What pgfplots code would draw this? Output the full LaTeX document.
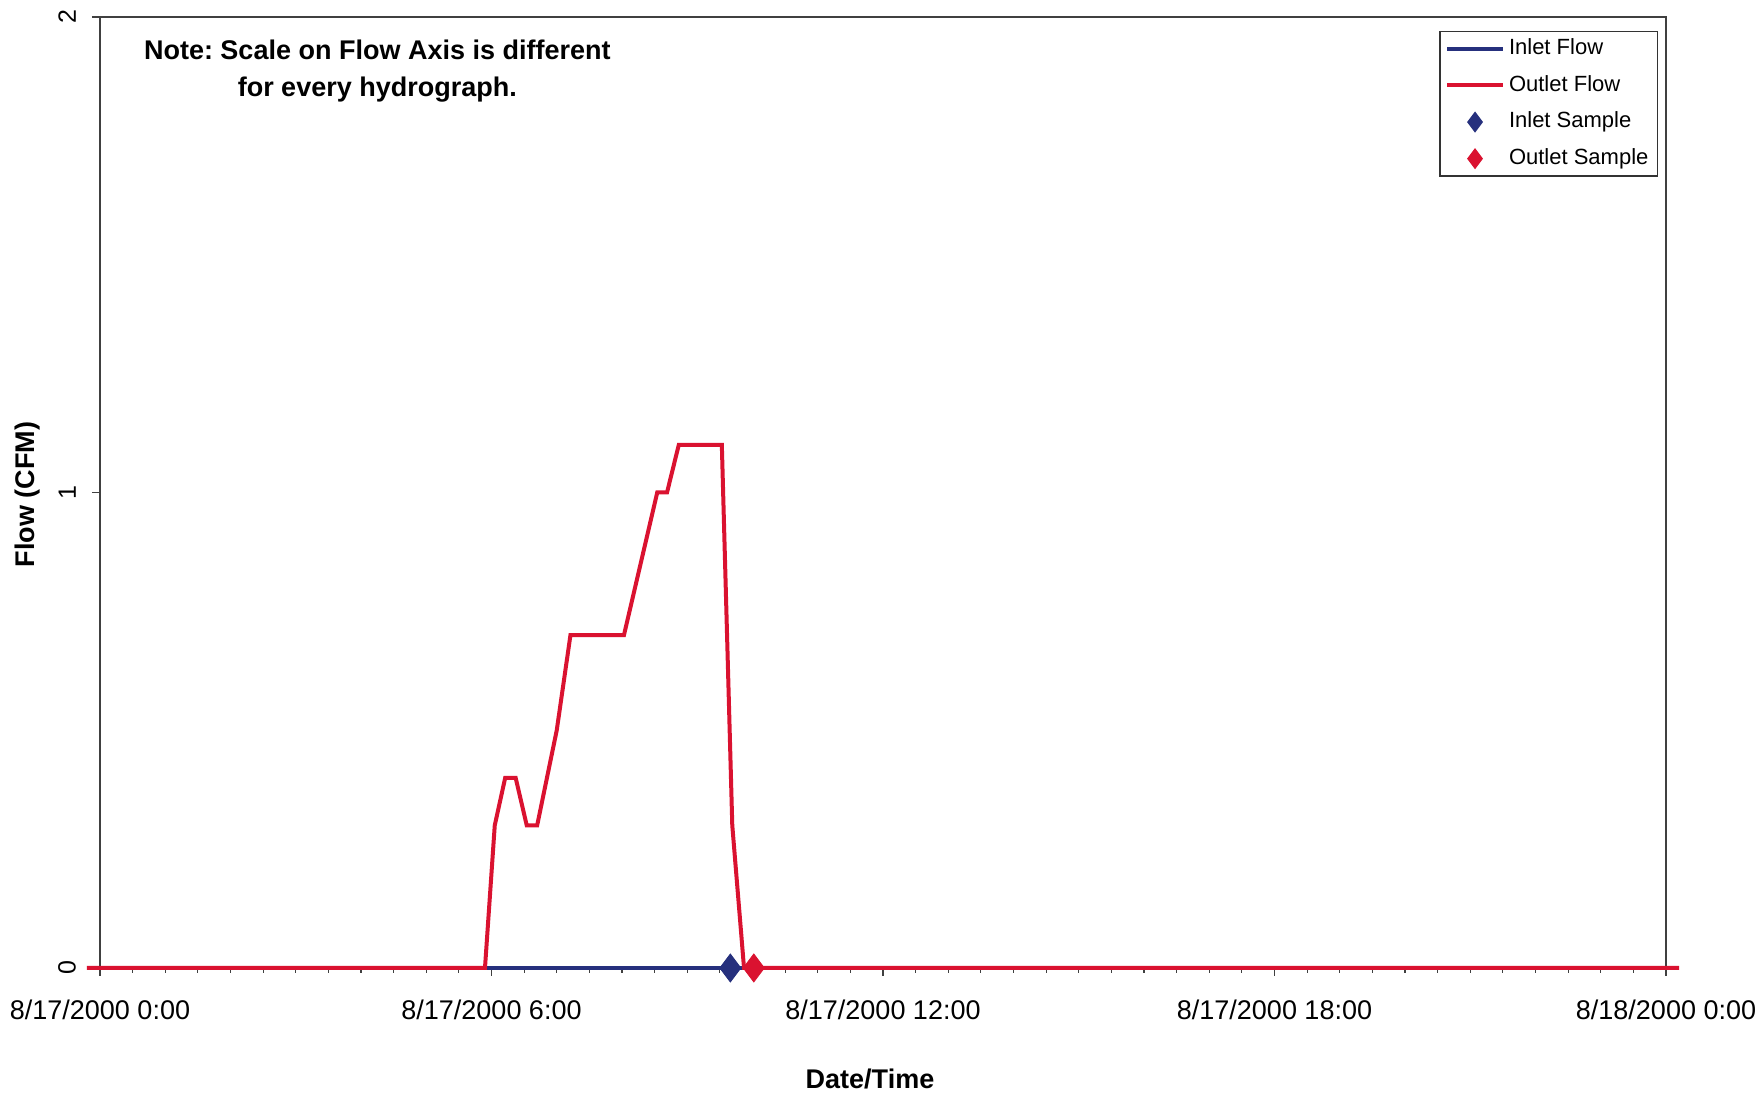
\documentclass[border=0pt]{standalone}
\usepackage{fontspec}
\setmainfont{Liberation Sans}
\usepackage{pgfplots}
\pgfplotsset{compat=1.18}
\definecolor{flowred}{RGB}{218,18,48}
\definecolor{flowblue}{RGB}{38,48,125}
\pgfplotsset{
 lineleg/.style={legend image code/.code={\draw[##1] (0pt,0pt) -- (28pt,0pt);}},
 markleg/.style={legend image code/.code={\draw[##1, mark size=4.8pt] plot coordinates {(14pt,0pt)};}},
}
\frenchspacing
\begin{document}
\begin{tikzpicture}
\begin{axis}[
 name=ax,
 scale only axis,
 width=783pt, height=475.5pt,
 xmin=0, xmax=24, ymin=0, ymax=2,
 clip=false,
 axis line style={black!75, line width=0.7pt},
 tick pos=left,
 tick align=outside,
 xtick={0,6,12,18,24},
 xticklabels={8/17/2000 0:00, 8/17/2000 6:00, 8/17/2000 12:00, 8/17/2000 18:00, 8/18/2000 0:00},
 minor x tick num=11,
 ytick={0,1,2},
 major tick length=4pt, minor tick length=2.5pt,
 every tick/.style={black!75, line width=0.6pt},
 /pgf/number format/assume math mode=true,
 xticklabel style={font=\fontsize{13.5}{16}\selectfont, yshift=-8.5pt},
 yticklabel style={font=\fontsize{12.5}{15}\selectfont, rotate=90, anchor=south, yshift=4.5pt},
 xlabel={Date/Time}, ylabel={Flow (CFM)},
 xlabel style={font=\bfseries\fontsize{13.5}{16}\selectfont, at={(axis description cs:0.4917,-0.1167)}, anchor=center},
 ylabel style={font=\bfseries\fontsize{13.5}{16}\selectfont, at={(axis description cs:-0.046,0.498)}, anchor=center},
 legend style={at={(0.9949,0.9853)}, anchor=north east, draw=black!80, line width=0.6pt,
   font=\fontsize{11}{13}\selectfont, inner xsep=2.5pt, inner ysep=1.5pt, row sep=4pt,
   nodes={inner sep=2pt, text height=8pt, text depth=2.3pt}, cells={anchor=west}},
]
\addplot[flowblue, line width=2pt, lineleg]
 coordinates {(-0.2,0) (24.2,0)};
\addlegendentry{Inlet Flow}
\addplot[flowred, line width=2pt, lineleg]
 coordinates {(-0.2,0) (5.90,0) (6.05,0.3) (6.21,0.4) (6.37,0.4) (6.54,0.3) (6.70,0.3) (7.00,0.5) (7.21,0.7) (8.03,0.7) (8.54,1.0) (8.69,1.0) (8.87,1.1) (9.53,1.1) (9.69,0.3) (9.87,0) (24.2,0)};
\addlegendentry{Outlet Flow}
\addplot[only marks, mark=diamond*, mark size=7pt, mark options={draw=flowblue, fill=flowblue}, markleg]
 coordinates {(9.66,0)};
\addlegendentry{Inlet Sample}
\addplot[only marks, mark=diamond*, mark size=7pt, mark options={draw=flowred, fill=flowred}, markleg]
 coordinates {(10.02,0)};
\addlegendentry{Outlet Sample}
\node[align=center, font=\bfseries\fontsize{13.5}{18.5}\selectfont] at (axis cs:4.25,1.886)
 {Note: Scale on Flow Axis is different\\for every hydrograph.};
\end{axis}
\pgfresetboundingbox
\path[use as bounding box] ([shift={(-50pt,-63.5pt)}]ax.south west) rectangle ++(880.5pt,547.5pt);
\end{tikzpicture}
\end{document}
